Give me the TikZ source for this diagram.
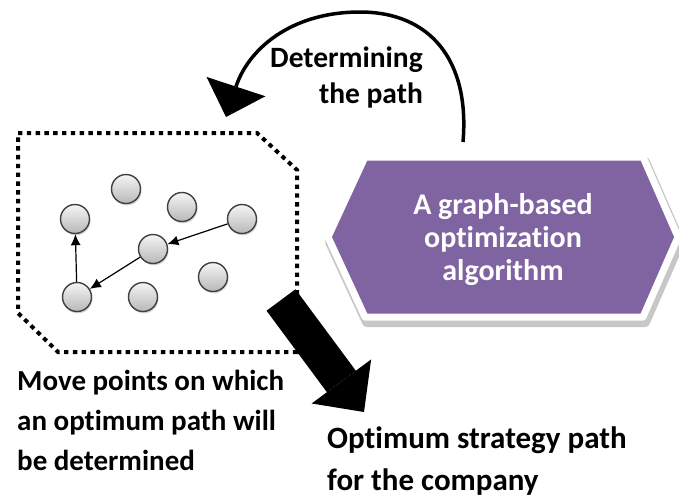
\documentclass[tikz,border=0pt]{standalone}
\usepackage{fontspec}
\setmainfont{Carlito}[Ligatures=NoCommon]
\usetikzlibrary{arrows.meta,shadows}
\definecolor{algpurple}{RGB}{128,100,162}
\begin{document}
\begin{tikzpicture}[x=1pt,y=-1pt,
  dotnode/.style={circle, minimum size=29pt, inner sep=0pt, draw=black!75, line width=1.4pt,
    top color=black!4, bottom color=black!28,
    drop shadow={shadow xshift=1pt,shadow yshift=-1.8pt,opacity=0.35}},
  link/.style={line width=1.2pt, -{Latex[length=11pt,width=10pt]}},
  lbl/.style={inner sep=0pt, text=black},
]
\useasboundingbox (0,0) rectangle (679,498);

% dotted region
\draw[line width=4pt, dash pattern=on 4.4pt off 4.4pt]
  (18,133) -- (257,133) -- (297,170) -- (297,352) -- (58,352) -- (18,313) -- cycle;

% points
\node[dotnode] (p1) at (75,219) {};
\node[dotnode] (p2) at (126,189) {};
\node[dotnode] (p3) at (182,207) {};
\node[dotnode] (p4) at (242,219) {};
\node[dotnode] (p5) at (153,249) {};
\node[dotnode] (p6) at (213,277) {};
\node[dotnode] (p7) at (77,297) {};
\node[dotnode] (p8) at (143,297) {};
\draw[link] (p4) -- (p5);
\draw[link] (p5) -- (p7);
\draw[link] (p7) -- (p1);

% hexagon
\begin{scope}[shift={(2,5)}]
  \filldraw[black!22, line width=10pt, line join=round]
    (328,237) -- (365,157) -- (643,157) -- (678,237) -- (643,317) -- (365,317) -- cycle;
\end{scope}
\filldraw[fill=algpurple, draw=white, line width=7pt, line join=round]
  (328,237) -- (365,157) -- (643,157) -- (678,237) -- (643,317) -- (365,317) -- cycle;
\node[lbl, text=white, align=center, anchor=base, font=\bfseries\fontsize{30}{33}\selectfont] (alg) at (503,280)
  {A graph-based\\optimization\\algorithm};

% curved arrow
\coordinate (arcstart) at (463,142);
\coordinate (arcend) at (226,117);
\draw[line width=3.5pt, -{Triangle[width=62pt,length=32pt,line width=0pt]}]
  (arcstart) .. controls (470,60) and (430,12) .. (360,12)
  .. controls (290,12) and (248,50) .. (arcend);
\node[lbl, align=right, anchor=base east, font=\bfseries\fontsize{29.5}{36}\selectfont] (dettxt) at (423,103)
  {Determining\\the path};

% fat arrow
\coordinate (fatstart) at (281,300);
\coordinate (fatend) at (364,412);
\draw[line width=36pt, -{Triangle[width=74pt,length=38pt,line width=0pt]}] (fatstart) -- (fatend);

% labels
\node[lbl, align=left, anchor=base west, font=\bfseries\fontsize{29}{40}\selectfont] (movetxt) at (17,470)
  {Move points on which\\an optimum path will\\be determined};
\node[lbl, align=left, anchor=base west, font=\bfseries\fontsize{31}{42}\selectfont] (opttxt) at (327,490)
  {Optimum strategy path\\for the company};
\end{tikzpicture}
\end{document}
